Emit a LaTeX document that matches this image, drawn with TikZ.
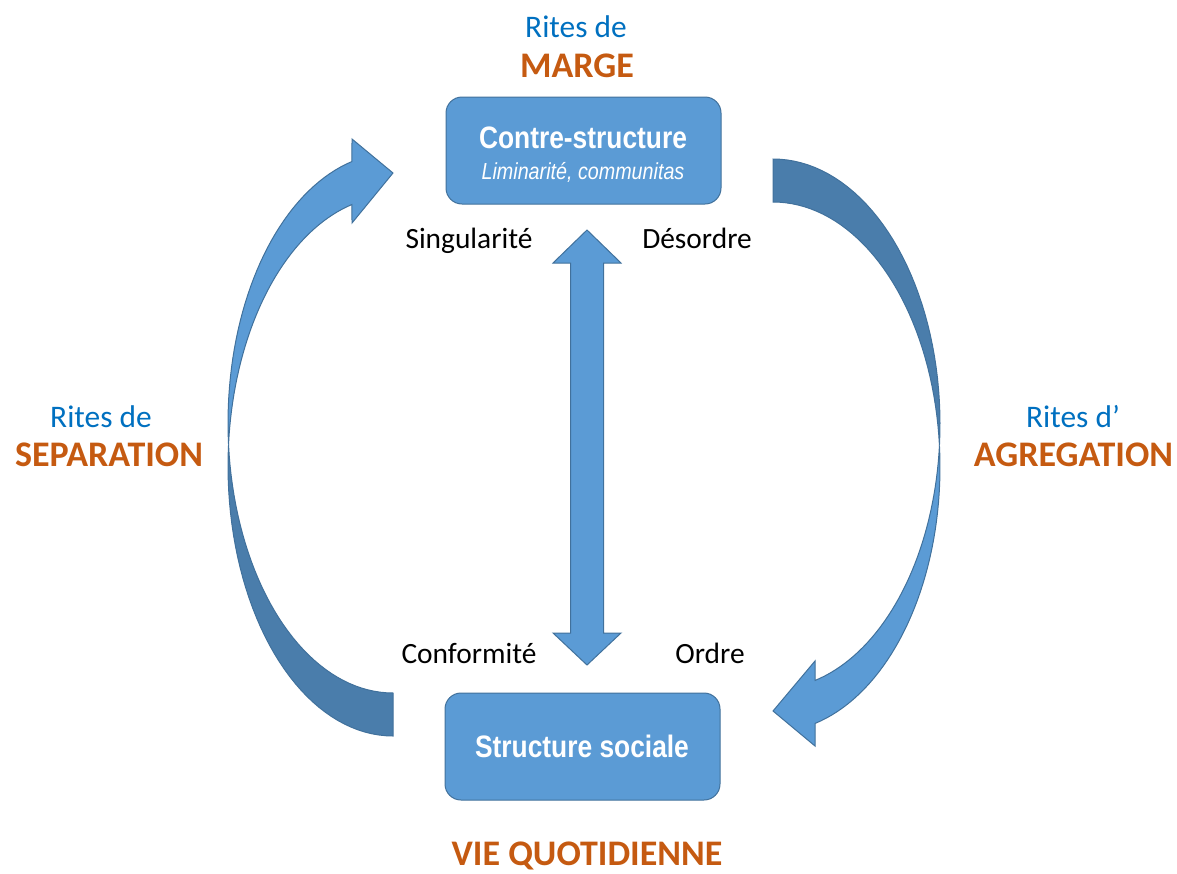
\documentclass[tikz,border=0pt]{standalone}
\usepackage{fontspec}
\setmainfont{Carlito}
\newfontfamily\narrowfont{Liberation Sans}[FakeStretch=0.85]
\usepackage{tikz}
\definecolor{boxblue}{HTML}{5B9BD5}
\definecolor{backblue}{HTML}{4A7DAB}
\definecolor{edgeblue}{HTML}{41719C}
\definecolor{ritesblue}{HTML}{0070C0}
\definecolor{phaseorange}{HTML}{C55A11}
\tikzset{
    box/.style={draw=edgeblue, fill=boxblue, line width=0.5pt, rounded corners=8pt, minimum width=137.5pt, minimum height=53.5pt, inner sep=0pt},
    blockarrow/.style={draw=edgeblue, fill=boxblue, line width=0.5pt},
    backarrow/.style={blockarrow, fill=backblue},
    rites/.style={anchor=base, text=ritesblue, font=\fontsize{15.7}{18}\selectfont},
    phase/.style={anchor=base, text=phaseorange, font=\fontsize{18}{21}\selectfont\bfseries},
    pole/.style={anchor=base, font=\fontsize{14.7}{17}\selectfont},
    boxtitle/.style={anchor=base, text=white, font=\narrowfont\bfseries\fontsize{15.5}{18}\selectfont},
    boxsub/.style={anchor=base, text=white, font=\narrowfont\itshape\fontsize{11.6}{14}\selectfont}
}

\begin{document}
\begin{tikzpicture}[x=0.5pt, y=-0.5pt]
                                \useasboundingbox (0,0) rectangle (1177,873);
                                \node[box] (contre) at (583.5,150.5) {};
                                \node[boxtitle] (contretitle) at (583,148) {Contre-structure};
                                \node[boxsub] (contresub) at (583,179) {Liminarité, communitas};
                                \node[box] (sociale) at (582.5,746.5) {};
                                \node[boxtitle] (socialetitle) at (582,757) {Structure sociale};
                                \draw[blockarrow] (587,230) -- (621,263) -- (603.5,263) -- (603.5,633) -- (621,633) -- (587,665) -- (553,633) -- (570.5,633) -- (570.5,263) -- (553,263) -- cycle;
                                \begin{scope}
                                    \draw[backarrow] plot[domain=90:184.57, samples=40] ({393+165*cos(\x)}, {466+270*sin(\x)}) -- plot[domain=175.43:90, samples=40] ({393+165*cos(\x)}, {423+270*sin(\x)}) -- cycle;
                                    \draw[blockarrow] plot[domain=255.6:175.43, samples=40] ({393+165*cos(\x)}, {423+270*sin(\x)}) -- plot[domain=184.57:255.6, samples=40] ({393+165*cos(\x)}, {466+270*sin(\x)}) -- (352,223) -- (393,173) -- (352,139) -- cycle;
                                \end{scope}
                                \begin{scope}
                                    \draw[backarrow] plot[domain=-90:4.65, samples=40] ({773+167*cos(\x)}, {424+265*sin(\x)}) -- plot[domain=-4.65:-90, samples=40] ({773+167*cos(\x)}, {467+265*sin(\x)}) -- cycle;
                                    \draw[blockarrow] plot[domain=75.43:4.65, samples=40] ({773+167*cos(\x)}, {424+265*sin(\x)}) -- plot[domain=-4.65:75.43, samples=40] ({773+167*cos(\x)}, {467+265*sin(\x)}) -- (815,746) -- (773,711) -- (815,661) -- cycle;
                                \end{scope}
                                \node[rites] (margerites) at (576,37) {Rites de};
                                \node[phase] (marge) at (577,77) {MARGE};
                                \node[rites] (separationrites) at (101,427) {Rites de};
                                \node[phase] (separation) at (109,466) {SEPARATION};
                                \node[rites] (agregationrites) at (1073,427) {Rites d’};
                                \node[phase] (agregation) at (1073.5,466) {AGREGATION};
                                \node[phase] (vie) at (587,865) {VIE QUOTIDIENNE};
                                \node[pole] (singularite) at (469,248) {Singularité};
                                \node[pole] (desordre) at (697,248) {Désordre};
                                \node[pole] (conformite) at (469,663) {Conformité};
                                \node[pole] (ordre) at (710,663) {Ordre};
                            \end{tikzpicture}
\end{document}
